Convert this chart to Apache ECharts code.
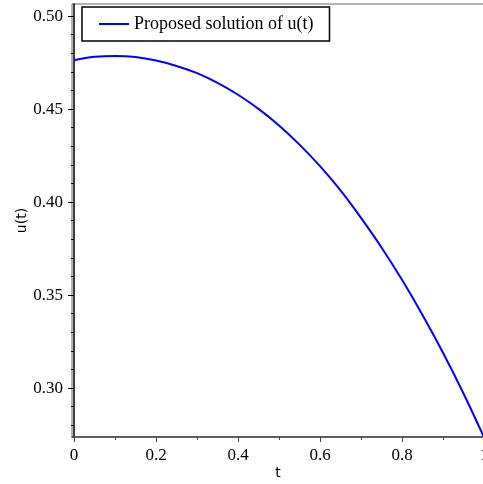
<!DOCTYPE html>
<html>
<head>
<meta charset="utf-8">
<script src="https://cdn.jsdelivr.net/npm/echarts@6/dist/echarts.min.js"></script>
<style>html,body{margin:0;padding:0;background:#fff}#c{width:483px;height:484px}</style>
</head>
<body>
<div id="c"></div>
<script>
const tValues = [0, 0.05, 0.1, 0.15, 0.2, 0.25, 0.3, 0.35, 0.4, 0.45, 0.5, 0.55, 0.6, 0.65, 0.7, 0.75, 0.8, 0.85, 0.9, 0.95, 1.0];
const uValues = [0.4763, 0.4781, 0.4786, 0.4780, 0.4761, 0.4732, 0.4693, 0.4641, 0.4577, 0.4501, 0.4412, 0.4309, 0.4193, 0.4063, 0.3915, 0.3756, 0.3582, 0.3393, 0.3190, 0.2971, 0.2735];
const xMajorTicks = [0, 0.2, 0.4, 0.6, 0.8, 1];
const xMinorTicks = [0.1, 0.3, 0.5, 0.7, 0.9];
const yMajorTicks = [0.30, 0.35, 0.40, 0.45, 0.50];
const yMinorTicks = [0.28, 0.29, 0.31, 0.32, 0.33, 0.34, 0.36, 0.37, 0.38, 0.39, 0.41, 0.42, 0.43, 0.44, 0.46, 0.47, 0.48, 0.49];
const seriesName = 'Proposed solution of u(t)';

const chart = echarts.init(document.getElementById('c'), null, {renderer: 'canvas'});
const xRange = {min: -0.005, max: 1.0};
const yRange = {min: 0.2737, max: 0.5065};
const serif = '"Liberation Serif", "Times New Roman", serif';
const sans = '"DejaVu Sans", sans-serif';

chart.setOption({
  animation: false,
  backgroundColor: '#fff',
  grid: {left: 72, top: 4, right: -1, bottom: 47, show: true, borderColor: '#666', borderWidth: 1,
    outerBoundsMode: 'none', containLabel: false},
  legend: {
    left: 82, top: 7,
    padding: [8, 16, 8, 17],
    borderColor: '#000', borderWidth: 1.5,
    backgroundColor: '#fff',
    icon: 'rect',
    itemWidth: 30, itemHeight: 2,
    itemStyle: {color: '#0000ff'},
    textStyle: {fontFamily: serif, fontSize: 18, color: '#000'},
    data: [seriesName]
  },
  xAxis: [
    {
      type: 'value', min: xRange.min, max: xRange.max,
      name: 't', nameLocation: 'middle', nameGap: 29, nameMoveOverlap: false,
      nameTextStyle: {fontFamily: sans, fontSize: 14, color: '#000'},
      axisLine: {show: true, lineStyle: {color: '#444', width: 1.5}},
      axisTick: {show: true, length: 5, inside: false, customValues: xMajorTicks, lineStyle: {color: '#444'}},
      axisLabel: {show: true, customValues: xMajorTicks, margin: 10, fontFamily: serif, fontSize: 17, color: '#000',
        formatter: v => (Math.abs(v) < 1e-9 ? '0' : (Math.abs(v - 1) < 1e-9 ? '1' : String(+v.toFixed(1))))},
      splitLine: {show: false}
    },
    {
      type: 'value', min: xRange.min, max: xRange.max, position: 'bottom',
      axisLine: {show: false},
      axisTick: {show: true, length: 3, customValues: xMinorTicks, lineStyle: {color: '#444'}},
      axisLabel: {show: false},
      splitLine: {show: false}
    }
  ],
  yAxis: [
    {
      type: 'value', min: yRange.min, max: yRange.max,
      name: 'u(t)', nameLocation: 'middle', nameGap: 43, nameRotate: 90, nameMoveOverlap: false,
      nameTextStyle: {fontFamily: sans, fontSize: 14, color: '#000'},
      axisLine: {show: true, lineStyle: {color: '#000', width: 1.5}},
      axisTick: {show: true, length: 6, customValues: yMajorTicks, lineStyle: {color: '#000'}},
      axisLabel: {show: true, customValues: yMajorTicks, margin: 9, fontFamily: serif, fontSize: 17, color: '#000',
        formatter: v => v.toFixed(2)},
      splitLine: {show: false}
    },
    {
      type: 'value', min: yRange.min, max: yRange.max, position: 'left',
      axisLine: {show: false},
      axisTick: {show: true, length: 3, customValues: yMinorTicks, lineStyle: {color: '#000'}},
      axisLabel: {show: false},
      splitLine: {show: false}
    }
  ],
  series: [{
    name: seriesName,
    type: 'line',
    xAxisIndex: 0, yAxisIndex: 0,
    smooth: 0.4,
    symbol: 'none', showSymbol: false,
    lineStyle: {color: '#0000ff', width: 2},
    itemStyle: {color: '#0000ff'},
    data: tValues.map((t, i) => [t, uValues[i]])
  }]
});
</script>
</body>
</html>
